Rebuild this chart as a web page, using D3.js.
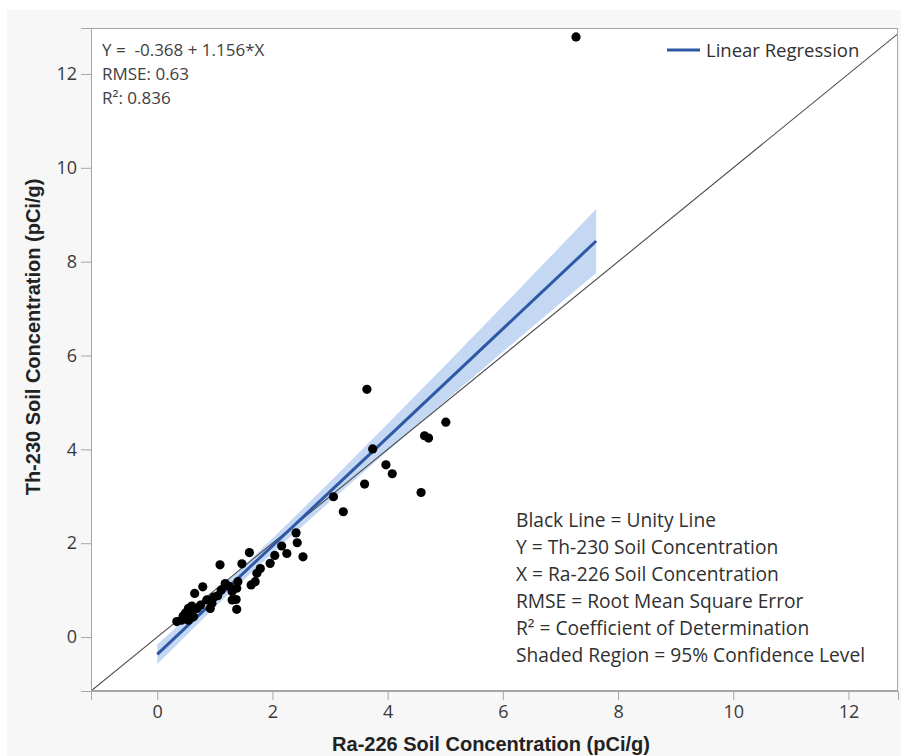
<!DOCTYPE html>
<html>
<head>
<meta charset="utf-8">
<script src="https://cdn.jsdelivr.net/npm/d3@7/dist/d3.min.js"></script>
<style>
  html, body { margin: 0; padding: 0; background: #ffffff; }
  svg { display: block; }
  text { font-family: "Open Sans", "Noto Sans", sans-serif; }
</style>
</head>
<body>
<script>
// ---------- data ----------
const raValues = [7.27, 3.64, 5.01, 4.64, 4.71, 3.74, 3.97, 4.08, 3.60, 3.06, 3.23, 4.58,
  2.41, 2.43, 2.53, 2.16, 2.25, 2.04, 1.96, 1.60, 1.47, 1.09, 1.79, 1.73, 1.70, 1.63,
  1.40, 1.38, 1.30, 1.37, 1.30, 1.38, 0.79, 0.65, 1.11, 0.98, 0.86, 0.75, 0.92, 0.69,
  0.54, 0.49, 0.63, 0.42, 0.34, 0.54, 1.18, 0.95, 1.05, 0.58, 1.25, 0.45, 0.60];
const thValues = [12.79, 5.28, 4.58, 4.29, 4.24, 4.01, 3.67, 3.48, 3.26, 2.99, 2.67, 3.08,
  2.22, 2.01, 1.71, 1.94, 1.78, 1.74, 1.57, 1.80, 1.56, 1.54, 1.46, 1.36, 1.18, 1.11,
  1.18, 1.04, 0.97, 0.80, 0.79, 0.59, 1.07, 0.93, 1.00, 0.85, 0.79, 0.68, 0.61, 0.61,
  0.61, 0.51, 0.43, 0.36, 0.33, 0.36, 1.14, 0.72, 0.88, 0.55, 1.08, 0.45, 0.66];

const fitIntercept = -0.368;
const fitSlope = 1.156;
const fitRange = [0, 7.62];

const bandX    = [0, 1, 2, 3, 4, 5, 6, 7, 7.62];
const bandLow  = [-0.578, 0.634, 1.790, 2.890, 3.966, 5.032, 6.080, 7.120, 7.760];
const bandHigh = [-0.158, 0.942, 2.098, 3.310, 4.546, 5.792, 7.056, 8.328, 9.120];

const xTicks = [0, 2, 4, 6, 8, 10, 12];
const yTicks = [0, 2, 4, 6, 8, 10, 12];
const xDomain = [-1.15, 12.86];
const yDomain = [-1.15, 12.98];

const statLines = ["Y =  -0.368 + 1.156*X", "RMSE: 0.63", "R²: 0.836"];
const noteLines = ["Black Line = Unity Line", "Y = Th-230 Soil Concentration",
  "X = Ra-226 Soil Concentration", "RMSE = Root Mean Square Error",
  "R² = Coefficient of Determination", "Shaded Region = 95% Confidence Level"];
const legendLabel = "Linear Regression";
const xTitle = "Ra-226 Soil Concentration (pCi/g)";
const yTitle = "Th-230 Soil Concentration (pCi/g)";

// ---------- layout ----------
const W = 901, H = 756;
const plot = { left: 91, top: 28, right: 898, bottom: 691 };

const svg = d3.select("body").append("svg").attr("width", W).attr("height", H);

svg.append("rect").attr("x", 7).attr("y", 10).attr("width", W - 7).attr("height", H - 10)
  .attr("fill", "#f7f7f7");
svg.append("rect").attr("x", plot.left).attr("y", plot.top)
  .attr("width", plot.right - plot.left).attr("height", plot.bottom - plot.top)
  .attr("fill", "#ffffff");

const x = d3.scaleLinear().domain(xDomain).range([plot.left, plot.right]);
const y = d3.scaleLinear().domain(yDomain).range([plot.bottom, plot.top]);

svg.append("defs").append("clipPath").attr("id", "clip")
  .append("rect").attr("x", plot.left).attr("y", plot.top)
  .attr("width", plot.right - plot.left).attr("height", plot.bottom - plot.top);

const g = svg.append("g").attr("clip-path", "url(#clip)");

// confidence band
const band = bandX.map((v, i) => ({ x: v, lo: bandLow[i], hi: bandHigh[i] }));
g.append("path").datum(band)
  .attr("fill", "#c4d8f4")
  .attr("d", d3.area().x(d => x(d.x)).y0(d => y(d.lo)).y1(d => y(d.hi)));

// unity line
g.append("line")
  .attr("x1", x(-2)).attr("y1", y(-2)).attr("x2", x(14)).attr("y2", y(14))
  .attr("stroke", "#4a4a4a").attr("stroke-width", 1.1);

// regression line
g.append("line")
  .attr("x1", x(fitRange[0])).attr("y1", y(fitIntercept + fitSlope * fitRange[0]))
  .attr("x2", x(fitRange[1])).attr("y2", y(fitIntercept + fitSlope * fitRange[1]))
  .attr("stroke", "#2e58a6").attr("stroke-width", 3);

// points
g.selectAll("circle.pt").data(raValues.map((v, i) => [v, thValues[i]]))
  .enter().append("circle").attr("class", "pt")
  .attr("cx", d => x(d[0])).attr("cy", d => y(d[1])).attr("r", 4.6)
  .attr("fill", "#000");

// frame
svg.append("rect").attr("x", plot.left + 0.5).attr("y", plot.top + 0.5)
  .attr("width", plot.right - plot.left - 1).attr("height", plot.bottom - plot.top - 1)
  .attr("fill", "none").attr("stroke", "#a6a6a6").attr("stroke-width", 1);

// axes
const xAxis = svg.append("g").attr("transform", `translate(0,${plot.bottom})`)
  .call(d3.axisBottom(x).tickValues(xTicks).tickSize(9).tickPadding(5).tickFormat(d3.format("d")));
const yAxis = svg.append("g").attr("transform", `translate(${plot.left},0)`)
  .call(d3.axisLeft(y).tickValues(yTicks).tickSize(10).tickPadding(4).tickFormat(d3.format("d")));
[xAxis, yAxis].forEach(a => {
  a.select(".domain").attr("stroke", "#a6a6a6");
  a.selectAll(".tick line").attr("stroke", "#a6a6a6");
  a.selectAll(".tick text").attr("fill", "#3a3a3a").style("font-size", "18px")
    .style("font-family", "'Open Sans', 'Noto Sans', sans-serif");
});

// axis titles
svg.append("text").attr("x", 491).attr("y", 751)
  .attr("text-anchor", "middle").attr("fill", "#222")
  .style("font-family", "'Liberation Sans', Arial, sans-serif")
  .style("font-weight", "bold").style("font-size", "20px").text(xTitle);
svg.append("text")
  .attr("transform", `translate(40,${337}) rotate(-90)`)
  .attr("text-anchor", "middle").attr("fill", "#222")
  .style("font-family", "'Liberation Sans', Arial, sans-serif")
  .style("font-weight", "bold").style("font-size", "20px").text(yTitle);

// stats annotation
svg.append("g").selectAll("text").data(statLines).enter().append("text")
  .attr("x", 102).attr("y", (d, i) => 56 + i * 24)
  .attr("fill", "#404040").style("font-size", "17px").style("white-space", "pre")
  .text(d => d);

// notes
svg.append("g").selectAll("text").data(noteLines).enter().append("text")
  .attr("x", 516).attr("y", (d, i) => 527 + i * 27)
  .attr("fill", "#303030").style("font-size", "19.2px").text(d => d);

// legend
svg.append("line").attr("x1", 667).attr("x2", 700).attr("y1", 50).attr("y2", 50)
  .attr("stroke", "#2e58a6").attr("stroke-width", 3);
svg.append("text").attr("x", 706).attr("y", 57).attr("fill", "#303030")
  .style("font-size", "18.5px").text(legendLabel);
</script>
</body>
</html>
